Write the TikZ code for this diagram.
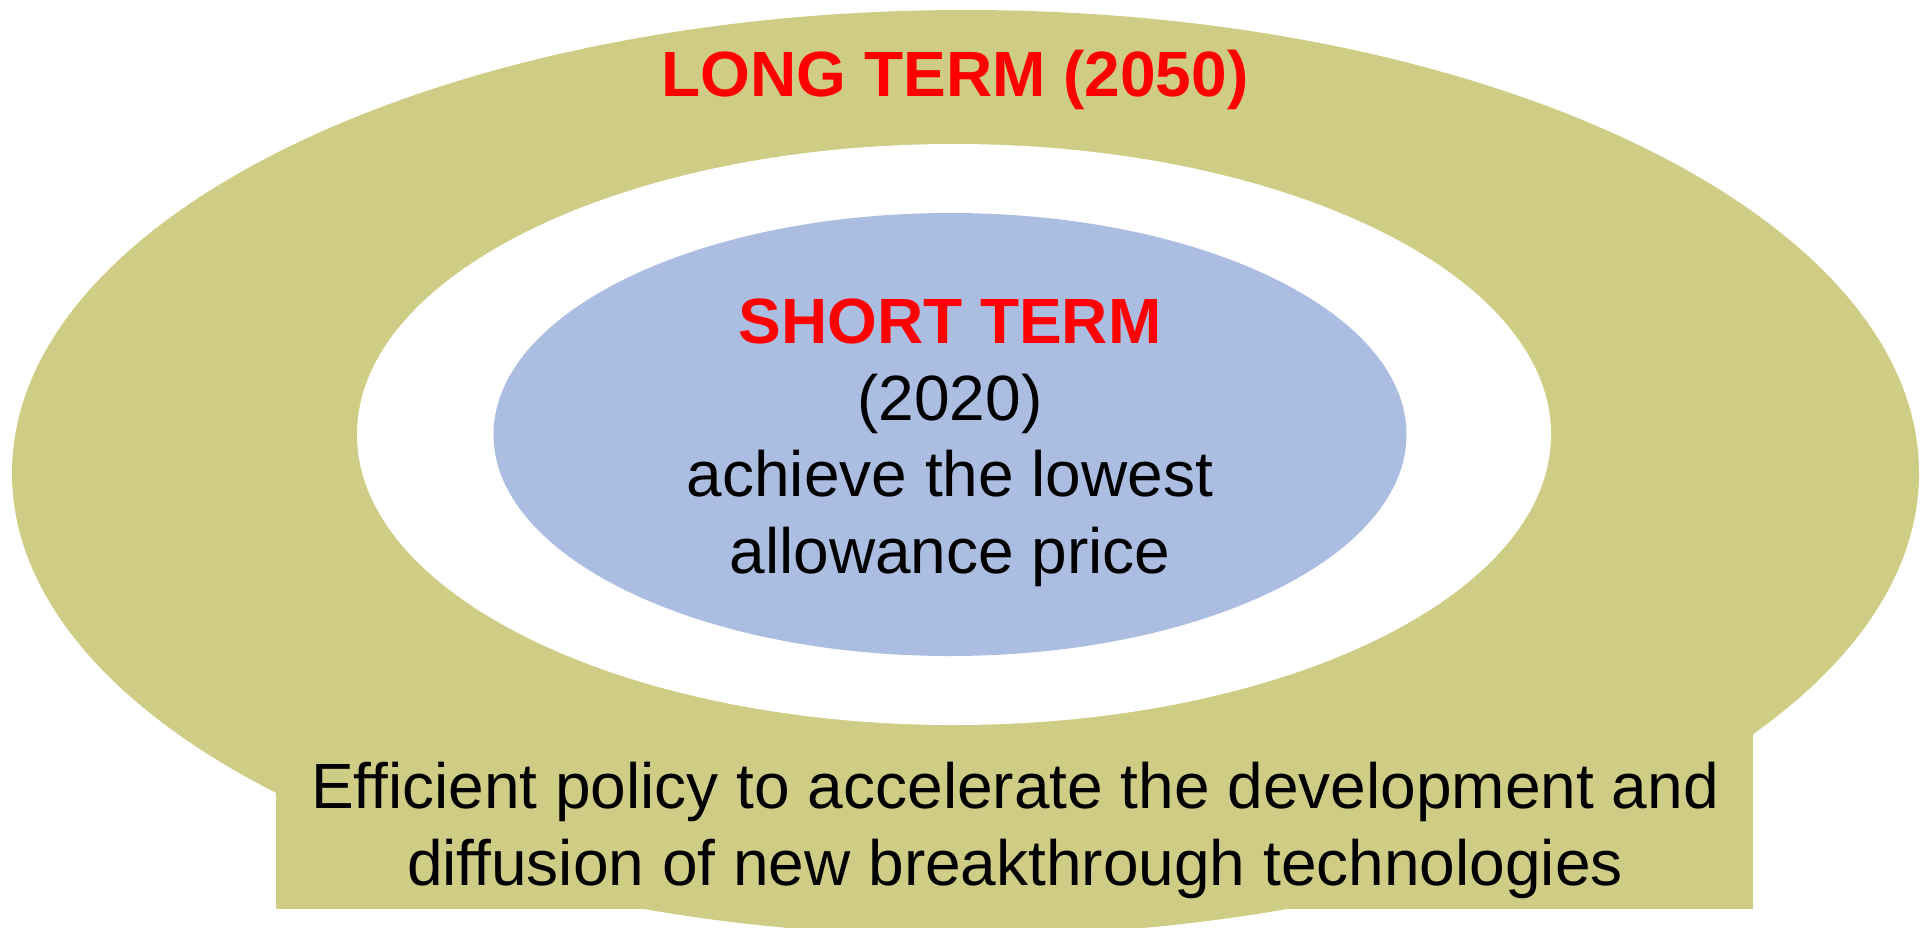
\documentclass[tikz,border=0pt]{standalone}
\usepackage{fontspec}
\setmainfont{Liberation Sans}
\usetikzlibrary{shapes.geometric}
\definecolor{ringolive}{HTML}{CFCD85}
\definecolor{coreblue}{HTML}{ABBDE1}
\begin{document}
\begin{tikzpicture}[x=1pt,y=-1pt,
  zone/.style={ellipse, inner sep=0pt, draw=none},
  txtline/.style={anchor=base, inner sep=0pt, font=\fontsize{64}{77}\selectfont},
  headline/.style={txtline, text=red, font=\fontsize{64}{77}\selectfont\bfseries}]
\useasboundingbox (0,0) rectangle (1926,927);
\clip (0,0) rectangle (1926,927);
% nested horizons
\node[zone, fill=ringolive, minimum width=1907pt, minimum height=926pt] (outer) at (965.5,473) {};
\node[zone, fill=white, minimum width=1194pt, minimum height=581pt] (gap) at (954,434.5) {};
\node[zone, fill=coreblue, minimum width=913pt, minimum height=443pt] (core) at (950,434.5) {};
% policy band
\node[fill=ringolive, inner sep=0pt, minimum width=1477pt, minimum height=179pt, anchor=south west] (band) at (276,909) {};
% labels
\node[headline] (long) at (955,96) {LONG TERM (2050)};
\node[headline] (short) at (950,343) {SHORT TERM};
\node[txtline] (year) at (950,420) {(2020)};
\node[txtline] (goalA) at (950,496) {achieve the lowest};
\node[txtline] (goalB) at (950,573) {allowance price};
\node[txtline] (polA) at (1015,808) {Efficient policy to accelerate the development and};
\node[txtline] (polB) at (1015,885) {diffusion of new breakthrough technologies};
\end{tikzpicture}
\end{document}
